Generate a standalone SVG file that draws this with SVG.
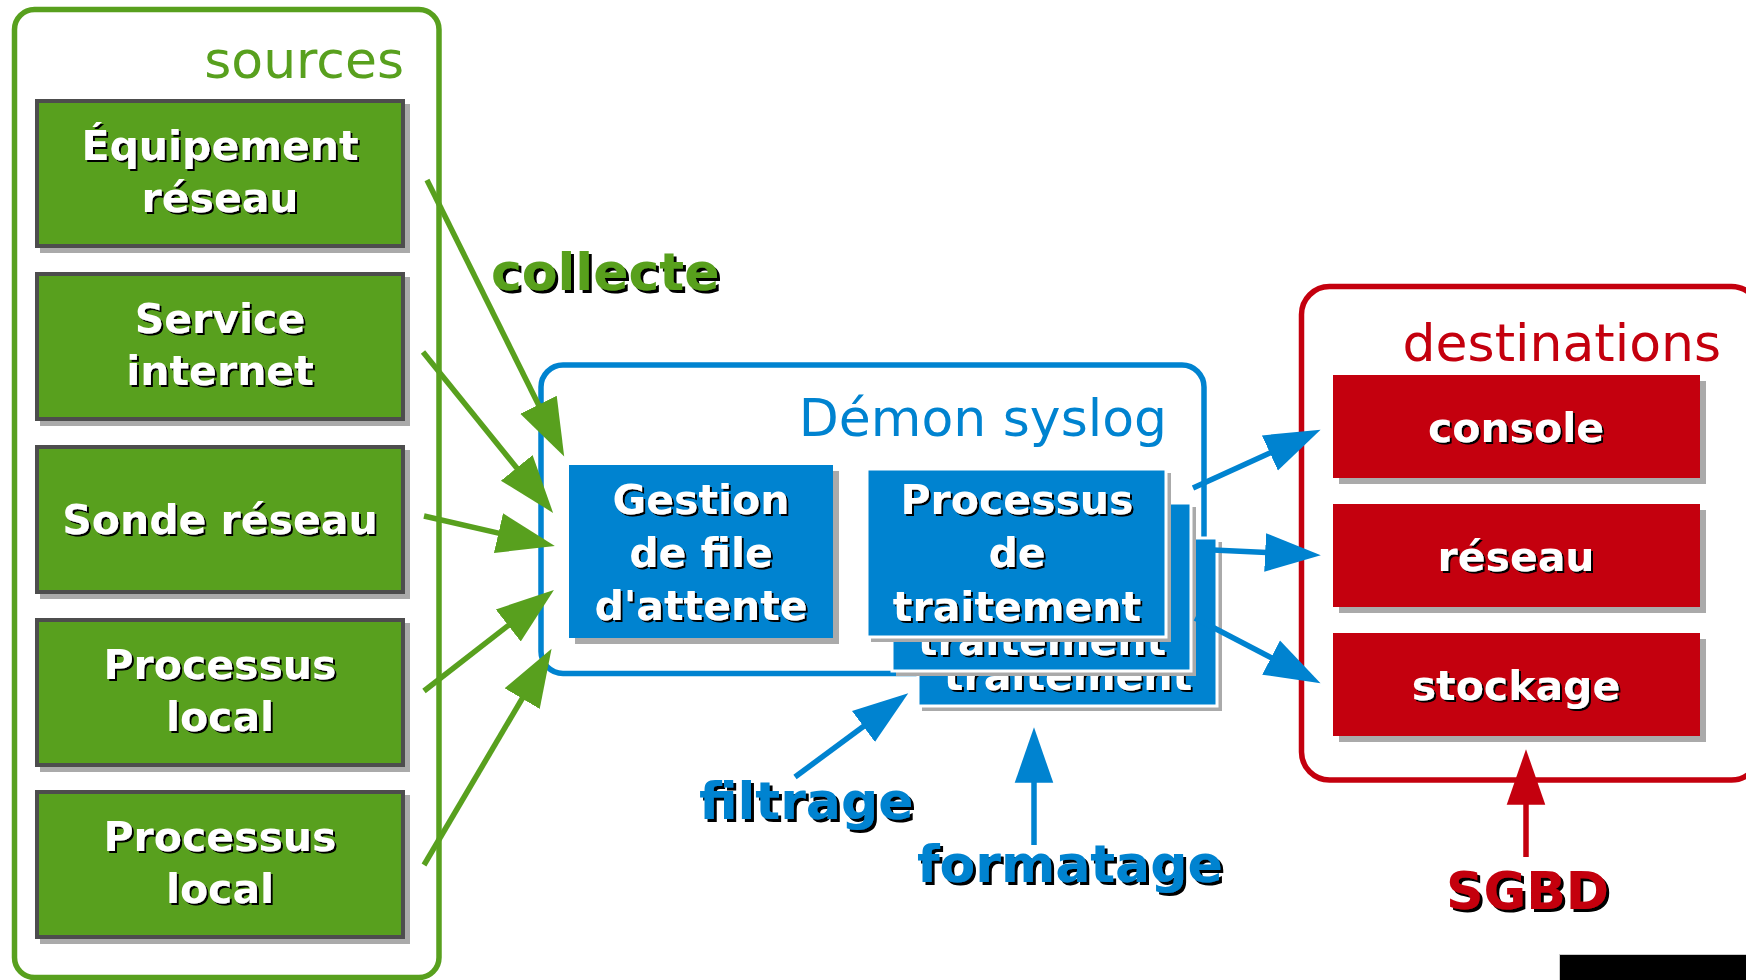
<svg xmlns="http://www.w3.org/2000/svg" width="1746" height="980" viewBox="0 0 1746 980">
<defs>
<style>
.cont{fill:#fff;stroke-width:5.5}
.gbox{fill:#58a01e;stroke:#4d4d4d;stroke-width:4}
.bbox{fill:#0083d0}
.rbox{fill:#c4000e}
.shd{fill:#aaaaaa}
.bt{font-family:"DejaVu Sans","Liberation Sans",sans-serif;font-weight:bold;font-size:41px;fill:#fff;text-anchor:middle;filter:url(#ts2)}
.title{font-family:"DejaVu Sans","Liberation Sans",sans-serif;font-size:52px;text-anchor:end}
.lbl{font-family:"DejaVu Sans","Liberation Sans",sans-serif;font-weight:bold;font-size:52px;filter:url(#ts3)}
.gl{stroke:#58a01e;stroke-width:5.5;fill:none;marker-end:url(#ag)}
.bl{stroke:#0083d0;stroke-width:5.5;fill:none;marker-end:url(#ab)}
.rl{stroke:#c4000e;stroke-width:5.5;fill:none;marker-end:url(#ar)}
</style>
<filter id="ts2" x="-5%" y="-20%" width="115%" height="150%"><feOffset in="SourceAlpha" dx="2" dy="2" result="o"/><feMerge><feMergeNode in="o"/><feMergeNode in="SourceGraphic"/></feMerge></filter>
<filter id="ts3" x="-5%" y="-20%" width="115%" height="150%"><feOffset in="SourceAlpha" dx="3" dy="3" result="o"/><feMerge><feMergeNode in="o"/><feMergeNode in="SourceGraphic"/></feMerge></filter>
<marker id="ag" markerUnits="userSpaceOnUse" markerWidth="60" markerHeight="44" viewBox="0 -20 56 40" refX="12" refY="0" orient="auto"><path d="M0,-19 L54,0 L0,19 Z" fill="#58a01e"/></marker>
<marker id="ab" markerUnits="userSpaceOnUse" markerWidth="60" markerHeight="44" viewBox="0 -20 56 40" refX="12" refY="0" orient="auto"><path d="M0,-18 L52,0 L0,18 Z" fill="#0083d0"/></marker>
<marker id="ar" markerUnits="userSpaceOnUse" markerWidth="60" markerHeight="44" viewBox="0 -20 56 40" refX="12" refY="0" orient="auto"><path d="M0,-18 L52,0 L0,18 Z" fill="#c4000e"/></marker>
</defs>
<rect width="1746" height="980" fill="#fff"/>

<g id="sources">
<rect class="cont" x="14.5" y="9.5" width="424.5" height="968" rx="20" stroke="#58a01e"/>
<text class="title" x="404" y="78" fill="#58a01e" font-size="53">sources</text>
</g>

<g id="src-equipement">
<rect class="shd" x="40" y="104" width="370" height="149"/>
<rect class="gbox" x="37" y="101" width="366" height="145"/>
<text class="bt" x="220" y="160">Équipement</text>
<text class="bt" x="220" y="212">réseau</text>
</g>
<g id="src-service">
<rect class="shd" x="40" y="277" width="370" height="149"/>
<rect class="gbox" x="37" y="274" width="366" height="145"/>
<text class="bt" x="220" y="333">Service</text>
<text class="bt" x="220" y="385">internet</text>
</g>
<g id="src-sonde">
<rect class="shd" x="40" y="450" width="370" height="149"/>
<rect class="gbox" x="37" y="447" width="366" height="145"/>
<text class="bt" x="220" y="534">Sonde réseau</text>
</g>
<g id="src-local1">
<rect class="shd" x="40" y="623" width="370" height="149"/>
<rect class="gbox" x="37" y="620" width="366" height="145"/>
<text class="bt" x="220" y="679">Processus</text>
<text class="bt" x="220" y="731">local</text>
</g>
<g id="src-local2">
<rect class="shd" x="40" y="795" width="370" height="149"/>
<rect class="gbox" x="37" y="792" width="366" height="145"/>
<text class="bt" x="220" y="851">Processus</text>
<text class="bt" x="220" y="903">local</text>
</g>

<g id="demon">
<rect class="cont" x="541" y="365" width="663" height="308.5" rx="22" stroke="#0083d0"/>
<text class="title" x="1167" y="436" fill="#0083d0">Démon syslog</text>
</g>

<g id="gestion">
<rect class="shd" x="575" y="471" width="264" height="173"/>
<rect class="bbox" x="569" y="465" width="264" height="173"/>
<text class="bt" x="701" y="514">Gestion</text>
<text class="bt" x="701" y="567">de file</text>
<text class="bt" x="701" y="620">d'attente</text>
</g>

<g id="traitement-3">
<rect class="shd" x="922" y="542" width="300" height="169"/>
<rect class="bbox" x="918" y="538" width="299" height="168" stroke="#fff" stroke-width="3"/>
<text class="bt" x="1068" y="690">traitement</text>
</g>
<g id="traitement-2">
<rect class="shd" x="896" y="507" width="300" height="169"/>
<rect class="bbox" x="892" y="503" width="299" height="168" stroke="#fff" stroke-width="3"/>
<text class="bt" x="1042" y="655">traitement</text>
</g>
<g id="traitement-1">
<rect class="shd" x="871" y="473" width="300" height="169"/>
<rect class="bbox" x="867" y="469" width="299" height="168" stroke="#fff" stroke-width="3"/>
<text class="bt" x="1017" y="514">Processus</text>
<text class="bt" x="1017" y="567">de</text>
<text class="bt" x="1017" y="621">traitement</text>
</g>

<g id="destinations">
<rect class="cont" x="1301.5" y="286.5" width="458" height="493.5" rx="28" stroke="#c4000e" stroke-width="6.5"/>
<text class="title" x="1721" y="361" fill="#c4000e">destinations</text>
</g>
<g id="dst-console">
<rect class="shd" x="1339" y="381" width="367" height="103"/>
<rect class="rbox" x="1333" y="375" width="367" height="103"/>
<text class="bt" x="1516" y="442">console</text>
</g>
<g id="dst-reseau">
<rect class="shd" x="1339" y="510" width="367" height="103"/>
<rect class="rbox" x="1333" y="504" width="367" height="103"/>
<text class="bt" x="1516" y="571">réseau</text>
</g>
<g id="dst-stockage">
<rect class="shd" x="1339" y="639" width="367" height="103"/>
<rect class="rbox" x="1333" y="633" width="367" height="103"/>
<text class="bt" x="1516" y="700">stockage</text>
</g>

<g id="badge">
<rect x="1559.5" y="954.5" width="200" height="40" fill="#000" stroke="#cccccc" stroke-width="1"/>
</g>

<g id="connectors">
<line class="gl" x1="427" y1="180" x2="544.2" y2="416.2"/>
<line class="gl" x1="423" y1="352" x2="524.8" y2="477.9"/>
<line class="gl" x1="424" y1="516" x2="511" y2="536"/>
<line class="gl" x1="424" y1="691" x2="518.4" y2="617.6"/>
<line class="gl" x1="424" y1="865" x2="528.7" y2="687.5"/>
<line class="bl" x1="1193" y1="488" x2="1281.6" y2="447.6"/>
<line class="bl" x1="1213" y1="550" x2="1278" y2="553.1"/>
<line class="bl" x1="1195" y1="618" x2="1282.5" y2="663.5"/>
<line class="bl" x1="795" y1="777" x2="873.8" y2="718.8"/>
<line class="bl" x1="1034" y1="845" x2="1034" y2="770"/>
<line class="rl" x1="1526" y1="857" x2="1526" y2="792"/>
</g>

<g id="labels">
<text class="lbl" x="491" y="290" fill="#58a01e">collecte</text>
<text class="lbl" x="699" y="819" fill="#0083d0">filtrage</text>
<text class="lbl" x="917" y="882" fill="#0083d0">formatage</text>
<text class="lbl" x="1446" y="909" fill="#c4000e">SGBD</text>
</g>
</svg>
